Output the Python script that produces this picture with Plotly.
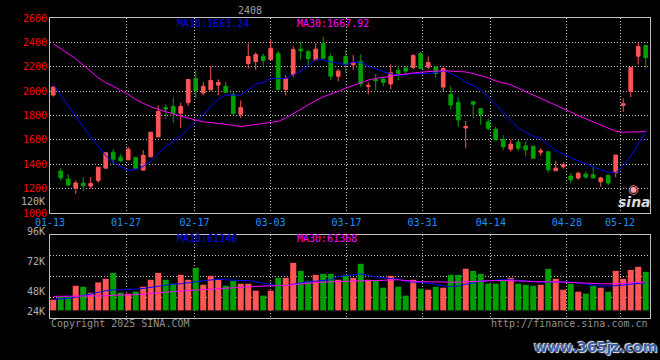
import plotly.graph_objects as go

# ---------------- data ----------------
DATES = [
    "01-13", "01-14", "01-15", "01-16", "01-17", "01-20", "01-21", "01-22", "01-23", "01-24", "01-27",
    "02-05", "02-06", "02-07", "02-10", "02-11", "02-12", "02-13", "02-14", "02-17", "02-18", "02-19",
    "02-20", "02-21", "02-24", "02-25", "02-26", "02-27", "02-28",
    "03-03", "03-04", "03-05", "03-06", "03-07", "03-10", "03-11", "03-12", "03-13", "03-14", "03-17",
    "03-18", "03-19", "03-20", "03-21", "03-24", "03-25", "03-26", "03-27", "03-28", "03-31",
    "04-01", "04-02", "04-03", "04-07", "04-08", "04-09", "04-10", "04-11", "04-14", "04-15", "04-16",
    "04-17", "04-18", "04-21", "04-22", "04-23", "04-24", "04-25", "04-28", "04-29", "04-30",
    "05-06", "05-07", "05-08", "05-09", "05-12", "05-13", "05-14", "05-15", "05-16",
]

OPEN = [1968, 1344, 1278, 1205, 1246, 1221, 1265, 1368, 1499, 1458,
        1436, 1455, 1352, 1461, 1624, 1864, 1875, 1818, 1905, 2104,
        1984, 2011, 2050, 2039, 1971, 1810, 2227, 2243, 2287, 2259,
        2308, 2014, 2137, 2344, 2325, 2257, 2390, 2284, 2123, 2284,
        2216, 2246, 2039, 2096, 2099, 2058, 2172, 2189, 2194, 2308,
        2197, 2197, 2033, 1973, 1908, 1698, 1913, 1856, 1747, 1687,
        1603, 1524, 1581, 1551, 1548, 1499, 1502, 1347, 1379, 1303,
        1287, 1319, 1314, 1257, 1308, 1330, 1883, 1998, 2287, 2374]
HIGH = [2040, 1368, 1319, 1265, 1295, 1295, 1378, 1499, 1524, 1483,
        1545, 1461, 1515, 1665, 1883, 1892, 1946, 1905, 2100, 2172,
        2074, 2205, 2096, 2077, 1992, 1924, 2390, 2317, 2308, 2423,
        2333, 2131, 2366, 2404, 2341, 2390, 2447, 2311, 2183, 2338,
        2295, 2300, 2074, 2142, 2115, 2219, 2205, 2205, 2303, 2322,
        2284, 2202, 2197, 2039, 1951, 1753, 1915, 1858, 1777, 1706,
        1638, 1603, 1603, 1592, 1554, 1532, 1510, 1426, 1417, 1327,
        1338, 1341, 1387, 1297, 1314, 1477, 1941, 2196, 2398, 2382]
LOW = [1955, 1265, 1218, 1156, 1183, 1199, 1248, 1363, 1401, 1415,
       1434, 1366, 1347, 1459, 1622, 1774, 1739, 1698, 1878, 1943,
       1965, 2006, 1968, 1984, 1802, 1780, 2186, 2175, 2213, 2257,
       2010, 1965, 2115, 2259, 2213, 2251, 2257, 2090, 2082, 2150,
       2172, 2033, 1973, 2006, 2039, 2014, 2088, 2137, 2178, 2178,
       2178, 2107, 2000, 1851, 1706, 1532, 1777, 1723, 1679, 1598,
       1518, 1502, 1510, 1469, 1448, 1469, 1330, 1345, 1363, 1246,
       1273, 1278, 1285, 1216, 1229, 1292, 1829, 1951, 2219, 2186]
CLOSE = [2033, 1289, 1229, 1246, 1224, 1243, 1376, 1494, 1442, 1428,
         1524, 1368, 1472, 1663, 1834, 1853, 1818, 1875, 2096, 2006,
         2039, 2088, 2071, 1990, 1818, 1864, 2284, 2300, 2251, 2352,
         2014, 2101, 2341, 2330, 2268, 2344, 2270, 2123, 2164, 2218,
         2232, 2060, 2047, 2085, 2071, 2150, 2145, 2164, 2292, 2186,
         2235, 2145, 2186, 1886, 1763, 1709, 1892, 1810, 1695, 1600,
         1543, 1565, 1532, 1518, 1450, 1510, 1355, 1368, 1396, 1273,
         1327, 1295, 1287, 1287, 1246, 1475, 1897, 2194, 2366, 2276]

MA10 = [2062, 1965, 1880, 1790, 1710, 1625, 1545, 1470, 1415, 1380,
        1350, 1357, 1382, 1423, 1484, 1545, 1590, 1628, 1693, 1751,
        1802, 1874, 1934, 1967, 1965, 1967, 2013, 2056, 2071, 2106,
        2103, 2105, 2132, 2166, 2211, 2259, 2257, 2239, 2231, 2217,
        2239, 2235, 2206, 2181, 2161, 2142, 2130, 2134, 2146, 2143,
        2144, 2152, 2166, 2146, 2115, 2071, 2046, 2010, 1951, 1892,
        1823, 1765, 1700, 1663, 1631, 1612, 1558, 1514, 1484, 1451,
        1429, 1402, 1378, 1355, 1334, 1331, 1385, 1468, 1565, 1663]
MA30 = [2390, 2349, 2308, 2265, 2213, 2159, 2110, 2069, 2041, 2006,
        1973, 1930, 1900, 1872, 1850, 1830, 1812, 1795, 1778, 1763,
        1748, 1742, 1736, 1725, 1720, 1709, 1717, 1725, 1733, 1745,
        1752, 1779, 1816, 1852, 1887, 1923, 1953, 1974, 1998, 2025,
        2048, 2071, 2090, 2105, 2112, 2122, 2133, 2143, 2149, 2155,
        2162, 2164, 2168, 2164, 2162, 2157, 2144, 2128, 2109, 2084,
        2069, 2051, 2024, 1997, 1969, 1942, 1911, 1886, 1860, 1829,
        1799, 1773, 1748, 1721, 1694, 1671, 1663, 1664, 1666, 1668]

VOLUME = [46000, 48200, 48200, 57300, 56500, 51700, 60000, 62900, 67700, 51700,
          50900, 52500, 56500, 62100, 67700, 62100, 58900, 66100, 62100, 71800,
          58100, 65300, 62100, 57300, 61300, 58900, 58900, 53300, 49300, 53300,
          63700, 63700, 75800, 69300, 61300, 66100, 66900, 66900, 62100, 66100,
          63700, 75000, 62100, 61300, 55700, 65300, 56500, 49300, 62100, 54900,
          54100, 56500, 55700, 66100, 66100, 71000, 69300, 66900, 58900, 58900,
          61300, 63700, 58900, 58100, 57300, 58100, 71000, 62900, 54100, 58900,
          52500, 50900, 57300, 55700, 52500, 69300, 62900, 70100, 72600, 68500]
VOL_MA10 = [46300, 46500, 47100, 48100, 49200, 50300, 51900, 53200, 54000, 54000,
            54000, 54600, 55100, 55900, 57000, 58100, 58600, 58900, 59400, 60500,
            61300, 62100, 62600, 62100, 61500, 61500, 61500, 60700, 59400, 58300,
            57500, 57500, 58600, 59400, 60500, 61000, 61500, 62100, 64800, 65300,
            66100, 66900, 65300, 64200, 63700, 63100, 62600, 60700, 60500, 59900,
            59400, 58100, 57200, 56700, 57000, 58600, 59400, 61000, 61500, 61800,
            62100, 62100, 61800, 61300, 60700, 60200, 60500, 60700, 60500, 60200,
            59400, 58900, 58100, 57200, 57000, 57200, 57800, 58600, 59400, 59700]
VOL_MA30 = [48700, 48700, 48700, 48700, 48700, 48700, 48900, 49200, 49700, 49700,
            50000, 50000, 50500, 51100, 51600, 51900, 52400, 53000, 53500, 53800,
            54000, 54600, 55100, 55400, 55600, 55900, 56400, 56700, 57000, 57000,
            57200, 57500, 58100, 58900, 59400, 59900, 60200, 60500, 60700, 61000,
            61300, 61500, 61500, 61500, 61800, 61800, 62100, 61500, 60700, 60500,
            60500, 60200, 60200, 60200, 60200, 60500, 61000, 61500, 61500, 61500,
            61500, 61500, 61300, 61000, 60500, 60200, 60500, 60500, 60200, 59700,
            59400, 59100, 58900, 58900, 58900, 58900, 59100, 59700, 59900, 60200]

PRICE_TICKS = [1000, 1200, 1400, 1600, 1800, 2000, 2200, 2400, 2600]
DATE_TICKS = ["01-13", "01-27", "02-17", "03-03", "03-17", "03-31", "04-14", "04-28", "05-12"]
VOL_LABELS = ["120K", "96K", "72K", "48K", "24K"]
TITLE = "2408"
PRICE_MA_TEXT = ["MA10:1663.24", "MA30:1667.92"]
VOL_MA_TEXT = ["MA10:61146", "MA30:61368"]

# ---------------- style ----------------
RED = "#ff5555"
GREEN = "#00a000"
BLUE = "#0000ff"
MAGENTA = "#ff00ff"
GRID = "#c0c0c0"
GRAY = "#b0b0b0"
MONO = "DejaVu Sans Mono"
VOL_BASE = 37400
VOL_RANGE = [31250, 98500]
W, H, ML, MR, MT, MB = 660, 360, 50, 10, 18, 42
PH = H - MT - MB


def py(ypx):
    """pixel row -> paper y"""
    return (H - MB - ypx) / PH


def px(xpx):
    return (xpx - ML) / (W - ML - MR)


def note(text, xp, yp, color, xanchor="left", size=10, family=MONO, **font_extra):
    return dict(text=text, x=px(xp), y=py(yp), xref="paper", yref="paper",
                xanchor=xanchor, yanchor="middle", showarrow=False,
                font=dict(family=family, size=size, color=color, **font_extra))


x = list(range(len(DATES)))
tickpos = [DATES.index(d) * 1.0133 - 0.42 for d in DATE_TICKS]
vol_colors = [RED if c >= o else GREEN for o, c in zip(OPEN, CLOSE)]

fig = go.Figure()
fig.add_trace(go.Candlestick(
    x=x, open=OPEN, high=HIGH, low=LOW, close=CLOSE,
    increasing=dict(line=dict(color=RED, width=1), fillcolor=RED),
    decreasing=dict(line=dict(color=GREEN, width=1), fillcolor=GREEN),
    whiskerwidth=0, showlegend=False, hoverinfo="skip", xaxis="x", yaxis="y"))
fig.add_trace(go.Scatter(x=x, y=MA10, mode="lines", line=dict(color=BLUE, width=1),
                         showlegend=False, hoverinfo="skip", xaxis="x", yaxis="y"))
fig.add_trace(go.Scatter(x=x, y=MA30, mode="lines", line=dict(color=MAGENTA, width=1),
                         showlegend=False, hoverinfo="skip", xaxis="x", yaxis="y"))

fig.add_trace(go.Bar(x=x, y=[v - VOL_BASE for v in VOLUME], base=VOL_BASE, width=0.8,
                     marker=dict(color=vol_colors, line=dict(width=0)),
                     showlegend=False, hoverinfo="skip", xaxis="x2", yaxis="y2"))
fig.add_trace(go.Scatter(x=x, y=VOL_MA10, mode="lines", line=dict(color=BLUE, width=1),
                         showlegend=False, hoverinfo="skip", xaxis="x2", yaxis="y2"))
fig.add_trace(go.Scatter(x=x, y=VOL_MA30, mode="lines", line=dict(color=MAGENTA, width=1),
                         showlegend=False, hoverinfo="skip", xaxis="x2", yaxis="y2"))

xr = [-0.43, len(DATES) - 0.43]
common_x = dict(range=xr, showline=True, linecolor=GRID, linewidth=1, mirror=True,
                showgrid=True, gridcolor=GRID, gridwidth=1, griddash="1px,2px",
                zeroline=False, tickmode="array", tickvals=tickpos, ticks="",
                fixedrange=True)

annotations = [note(TITLE, 250, 10, "#a0a0a0", xanchor="center")]
for txt, xp, col in zip(PRICE_MA_TEXT, [175, 295], [BLUE, MAGENTA]):
    annotations.append(note(txt, xp, 23, col))
for txt, xp, col in zip(VOL_MA_TEXT, [175, 295], [BLUE, MAGENTA]):
    annotations.append(note(txt, xp, 238.5, col))
for txt, yp in zip(VOL_LABELS, [201, 231.5, 261, 291, 311]):
    annotations.append(note(txt, 47, yp, GRAY, xanchor="right"))
annotations.append(note("Copyright 2025 SINA.COM", 49, 323.5, "#909090"))
annotations.append(note("http://finance.sina.com.cn", 650, 323.5, "#909090", xanchor="right"))
annotations.append(note("◉", 633, 189, "#ff9a9a", xanchor="center", size=12, family="DejaVu Sans"))
annotations.append(note("<b><i>sina</i></b>", 634, 202, "#d8d8d8", xanchor="center", size=14,
                        family="DejaVu Sans"))
annotations.append(note("<b>www.365jz.com</b>", 595, 347, "#3d5f9e", xanchor="center", size=14,
                        family="DejaVu Sans",
                        shadow="1px 1px 1px #e8eeff, -1px -1px 1px #e8eeff"))

fig.update_layout(
    width=W, height=H,
    margin=dict(l=ML, r=MR, t=MT, b=MB, pad=0),
    paper_bgcolor="#000000", plot_bgcolor="#000000",
    showlegend=False, hovermode=False, boxgap=0.3, bargap=0.2,
    xaxis=dict(common_x, anchor="y", ticktext=DATE_TICKS, showticklabels=True,
               tickfont=dict(family=MONO, size=10, color="#1e90ff"),
               rangeslider=dict(visible=False)),
    xaxis2=dict(common_x, anchor="y2", matches="x", showticklabels=False),
    yaxis=dict(domain=[py(213), 1], range=[PRICE_TICKS[0], PRICE_TICKS[-1]],
               tickmode="array", tickvals=PRICE_TICKS, ticktext=[str(t) for t in PRICE_TICKS],
               tickfont=dict(family=MONO, size=10, color="#ff0000"), ticks="",
               showline=True, linecolor=GRID, linewidth=1, mirror=True,
               showgrid=True, gridcolor=GRID, gridwidth=1, griddash="1px,2px",
               zeroline=False, fixedrange=True),
    yaxis2=dict(domain=[0, py(234.7)], range=VOL_RANGE,
                tickmode="array",
                tickvals=[VOL_RANGE[0] + (VOL_RANGE[1] - VOL_RANGE[0]) * k / 4 for k in (1, 2, 3)],
                showticklabels=False, ticks="",
                showline=True, linecolor=GRID, linewidth=1, mirror=True,
                showgrid=True, gridcolor=GRID, gridwidth=1, griddash="1px,2px",
                zeroline=False, fixedrange=True),
    annotations=annotations,
)

fig.write_html("out.html", config={"displayModeBar": False, "staticPlot": True},
               post_script="document.body.style.margin='0';document.body.style.background='#000';")
